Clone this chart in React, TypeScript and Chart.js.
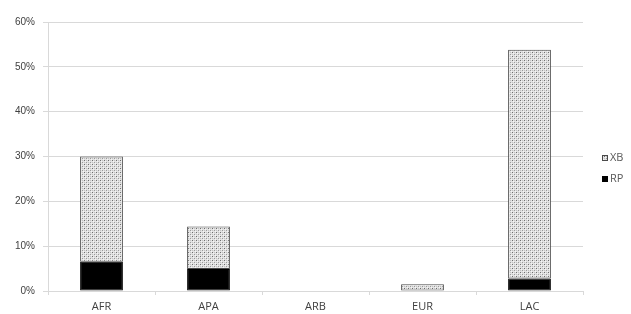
import React, { useEffect, useRef } from "react";
import { Chart, registerables } from "chart.js";
Chart.register(...registerables);

const categories = ["AFR", "APA", "ARB", "EUR", "LAC"];
const rpValues = [6.5, 4.9, 0, 0, 2.8];
const xbValues = [23.5, 9.5, 0, 1.5, 51];
const yTicks = [0, 10, 20, 30, 40, 50, 60];

const FONT = "'Open Sans', sans-serif";
const YFONT = "'Liberation Sans', sans-serif";

function makePattern(): CanvasPattern | string {
  const c = document.createElement("canvas");
  c.width = 4;
  c.height = 4;
  const ctx = c.getContext("2d");
  if (!ctx) return "#ddd";
  ctx.fillStyle = "#e2e2e2";
  ctx.fillRect(0, 0, 4, 4);
  ctx.fillStyle = "#6e6e6e";
  ctx.fillRect(0, 0, 1, 1);
  ctx.fillStyle = "#9a9a9a";
  ctx.fillRect(2, 2, 1, 1);
  ctx.fillStyle = "#c2c2c2";
  ctx.fillRect(2, 0, 1, 1);
  ctx.fillRect(0, 2, 1, 1);
  ctx.fillStyle = "#f4f4f4";
  ctx.fillRect(1, 1, 1, 1);
  ctx.fillRect(3, 3, 1, 1);
  const p = ctx.createPattern(c, "repeat");
  return p || "#ddd";
}

const legendPlugin = {
  id: "customLegend",
  afterDraw(chart: any) {
    const ctx = chart.ctx;
    const ds = chart.data.datasets;
    const order = [1, 0];
    const ys = [158, 179];
    ctx.save();
    ctx.font = "11px " + FONT;
    ctx.textBaseline = "middle";
    ctx.textAlign = "left";
    order.forEach((i, k) => {
      const d = ds[i];
      const y = ys[k];
      ctx.fillStyle = d.backgroundColor;
      ctx.fillRect(602, y - 3, 6, 6);
      ctx.strokeStyle = d.borderColor;
      ctx.lineWidth = 1;
      ctx.strokeRect(602.5, y - 2.5, 5, 5);
      ctx.fillStyle = "#595959";
      ctx.fillText(d.label, 610, y);
    });
    ctx.restore();
  },
};

export default function App() {
  const ref = useRef<HTMLCanvasElement>(null);
  useEffect(() => {
    if (!ref.current) return;
    const pattern = makePattern();
    const chart = new Chart(ref.current, {
      type: "bar",
      data: {
        labels: categories,
        datasets: [
          {
            label: "RP",
            data: rpValues,
            backgroundColor: "#000000",
            borderColor: "#000000",
            borderWidth: 1,
            borderSkipped: false,
          },
          {
            label: "XB",
            data: xbValues,
            backgroundColor: pattern as any,
            borderColor: "#4a4a4a",
            borderWidth: 1,
            borderSkipped: false,
          },
        ],
      },
      plugins: [legendPlugin],
      options: {
        animation: false,
        responsive: false,
        maintainAspectRatio: false,
        layout: { padding: { top: 22, right: 48, left: 0, bottom: 0 } },
        datasets: { bar: { categoryPercentage: 0.8, barPercentage: 0.5 } },
        plugins: {
          legend: { display: false },
          tooltip: { enabled: false },
        },
        scales: {
          x: {
            stacked: true,
            afterFit: (s: any) => {
              s.height = 23;
            },
            grid: {
              display: true,
              drawOnChartArea: false,
              drawTicks: true,
              tickLength: 4,
              color: "#d9d9d9",
            },
            border: { color: "#d9d9d9" },
            ticks: {
              color: "#404040",
              font: { family: FONT, size: 11 },
              padding: 5,
            },
          },
          y: {
            stacked: true,
            min: 0,
            max: 60,
            afterFit: (s: any) => {
              s.width = 48;
            },
            afterBuildTicks: (axis: any) => {
              axis.ticks = yTicks.map((v) => ({ value: v }));
            },
            grid: { color: "#d9d9d9", tickLength: 5 },
            border: { color: "#d9d9d9" },
            ticks: {
              color: "#404040",
              font: { family: YFONT, size: 10 },
              padding: 8,
              callback: (v: any) => v + "%",
            },
          },
        },
      },
    });
    return () => chart.destroy();
  }, []);
  return (
    <div style={{ position: "fixed", left: 0, top: 0, width: 631, height: 314, background: "#fff" }}>
      <canvas ref={ref} width={631} height={314} />
    </div>
  );
}
